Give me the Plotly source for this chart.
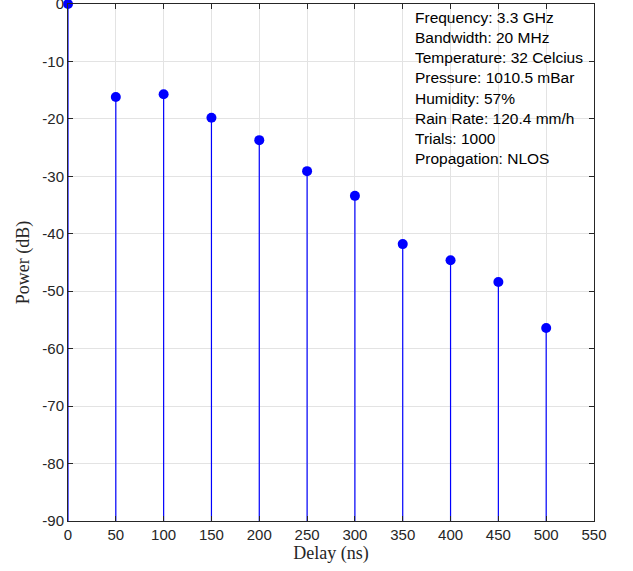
import plotly.graph_objects as go

delay_ns = [0, 50, 100, 150, 200, 250, 300, 350, 400, 450, 500]
power_db = [0, -16.2, -15.7, -19.8, -23.7, -29.1, -33.4, -41.8, -44.6, -48.4, -56.4]
x_ticks = [0, 50, 100, 150, 200, 250, 300, 350, 400, 450, 500, 550]
y_ticks = [0, -10, -20, -30, -40, -50, -60, -70, -80, -90]
info_lines = [
    "Frequency: 3.3 GHz",
    "Bandwidth: 20 MHz",
    "Temperature: 32 Celcius",
    "Pressure: 1010.5 mBar",
    "Humidity: 57%",
    "Rain Rate: 120.4 mm/h",
    "Trials: 1000",
    "Propagation: NLOS",
]
baseline = -90

stem_x, stem_y = [], []
for d, p in zip(delay_ns, power_db):
    stem_x += [d, d, None]
    stem_y += [baseline, p, None]

fig = go.Figure()
fig.add_trace(go.Scatter(x=stem_x, y=stem_y, mode="lines",
                         line=dict(color="#0000ff", width=1.2),
                         hoverinfo="skip", showlegend=False))
fig.add_trace(go.Scatter(x=delay_ns, y=power_db, mode="markers",
                         marker=dict(color="#0000ff", size=10),
                         cliponaxis=False, showlegend=False))

axis_common = dict(
    showgrid=True, gridcolor="#e3e3e3", gridwidth=1,
    showline=True, linecolor="#262626", linewidth=1, mirror="ticks",
    ticks="inside", ticklen=5, tickcolor="#262626",
    tickfont=dict(family="Liberation Sans, Arial", size=15, color="#262626"),
    zeroline=False, ticklabeloverflow="allow", automargin=False,
)

fig.update_xaxes(range=[0, 550], tickvals=x_ticks, ticktext=[str(v) for v in x_ticks],
                 **axis_common,
                 title=dict(text="Delay (ns)", standoff=2,
                            font=dict(family="Liberation Serif, Times New Roman", size=18, color="#262626")))
fig.update_yaxes(range=[-90, 0], tickvals=y_ticks, ticktext=[str(v) for v in y_ticks],
                 **axis_common,
                 title=dict(text="Power (dB)", standoff=8,
                            font=dict(family="Liberation Serif, Times New Roman", size=18, color="#262626")))

fig.add_annotation(
    text="<br>".join(info_lines), xref="paper", yref="paper",
    x=(413 - 68) / (594 - 68), y=1 - (7 - 4) / (521 - 4),
    xanchor="left", yanchor="top", align="left", showarrow=False,
    font=dict(family="Liberation Sans, Arial", size=15.5, color="#000000"),
)

fig.update_layout(
    width=633, height=571,
    margin=dict(l=68, r=39, t=4, b=50),
    plot_bgcolor="white", paper_bgcolor="white",
)

fig.write_html("out.html")
